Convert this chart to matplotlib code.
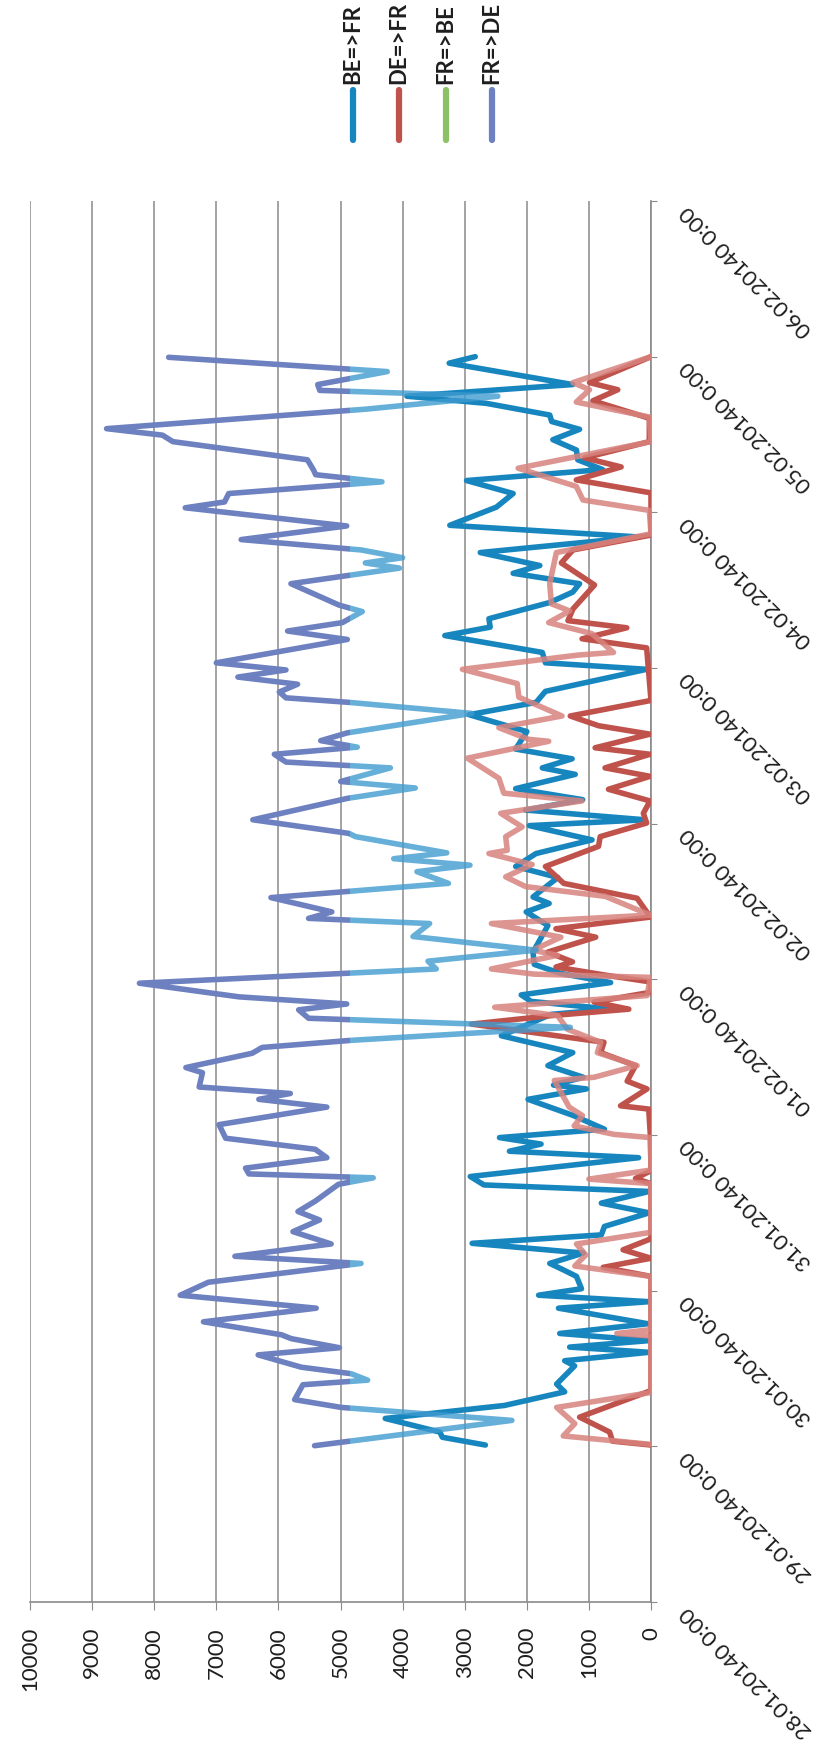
import matplotlib
matplotlib.use("Agg")
import matplotlib.pyplot as plt
from matplotlib.lines import Line2D
from matplotlib.patches import Rectangle

plt.rcParams['font.family'] = ['Lato', 'DejaVu Sans']

series_names = ['BE=>FR', 'DE=>FR', 'FR=>BE', 'FR=>DE']
day_labels = ['28.01.20140 0:00', '29.01.20140 0:00', '30.01.20140 0:00',
              '31.01.20140 0:00', '01.02.20140 0:00', '02.02.20140 0:00',
              '03.02.20140 0:00', '04.02.20140 0:00', '05.02.20140 0:00',
              '06.02.20140 0:00']
value_ticks = [0, 1000, 2000, 3000, 4000, 5000, 6000, 7000, 8000, 9000, 10000]

# (hours after 29.01 0:00, MW)
be_fr = [(0.2, 2667), (1.4, 3360), (2.2, 3400), (4.3, 4280), (6.3, 2360), (8.4, 1390),
         (9.6, 1520), (12.4, 1230), (13.2, 1390), (14.5, 30), (15.3, 1310), (16.3, 30),
         (17.4, 1470), (18.9, 50), (21.3, 1490), (22.3, 30), (23.3, 1810), (24.3, 1120),
         (26.2, 1200), (27.2, 1410), (28.2, 1630), (29.8, 1090), (31.3, 2880), (32.6, 800),
         (33.9, 750), (36.0, 30), (37.5, 800), (39.3, 30), (40.3, 2690), (41.6, 2910),
         (44.5, 200), (45.5, 2280), (46.6, 1770), (47.6, 2440), (48.9, 750), (51.0, 1250),
         (53.5, 1980), (55.1, 1040), (55.7, 1570), (56.9, 1090), (58.7, 1660), (60.7, 1260),
         (63.3, 2410), (66.6, 1610), (67.4, 650), (68.6, 1930), (69.6, 2090), (71.5, 650),
         (72.9, 1450), (74.3, 1880), (76.2, 1900), (80.3, 1660), (82.4, 2010), (83.7, 1640),
         (84.7, 1900), (87.7, 1500), (89.4, 2180), (91.4, 1850), (93.5, 950), (95.7, 1960),
         (96.6, 100), (98.1, 2020), (99.7, 1100), (101.4, 2180), (103.6, 1220), (104.6, 1750),
         (106.0, 1270), (107.5, 2180), (110.2, 2000), (112.8, 2930), (114.7, 1850),
         (116.4, 1700), (119.8, 70), (120.8, 1700), (122.4, 1750), (125.0, 3320),
         (126.3, 2590), (127.6, 2610), (130.1, 1630), (131.7, 1260), (133.0, 1150),
         (134.6, 2220), (135.8, 1790), (137.8, 2750), (140.2, 190), (142.0, 3240),
         (144.8, 2490), (146.9, 2220), (148.9, 2970), (150.6, 780), (152.1, 1180),
         (153.6, 1200), (155.2, 1580), (156.8, 1150), (158.0, 1600), (159.0, 1630),
         (160.8, 2650), (161.9, 3930), (163.7, 1260), (167.0, 3250), (168.0, 2830)]

de_fr = [(0.2, 0), (0.8, 620), (2.2, 667), (4.5, 1150), (8.6, 0), (26.2, 0), (27.6, 770),
         (29.0, 0), (30.3, 450), (32.0, 0), (40.5, 0), (41.3, 250), (42.5, 0), (47.9, 10),
         (52.0, 37), (52.5, 490), (55.1, 64), (56.3, 384), (58.7, 250), (60.7, 810),
         (62.3, 757), (65.1, 2890), (66.4, 1610), (67.4, 357), (68.5, 917), (70.0, 10),
         (71.6, 10), (72.6, 704), (73.9, 1530), (74.7, 1264), (76.2, 1664), (78.5, 890),
         (79.8, 1531), (81.6, 10), (84.5, 224), (86.8, 1406), (89.4, 1700), (92.5, 845),
         (94.0, 818), (96.1, 70), (97.6, 123), (99.5, 16), (101.3, 685), (103.3, 16),
         (104.6, 740), (106.7, 16), (107.7, 900), (109.8, 16), (111.1, 845), (112.6, 1300),
         (115.0, 0), (123.1, 70), (124.5, 1110), (126.2, 390), (127.3, 1337), (129.1, 1257),
         (132.8, 909), (136.2, 1444), (138.2, 1257), (140.5, 0), (147.0, 0), (149.0, 1203),
         (151.0, 481), (152.4, 1070), (154.9, 27), (158.5, 27), (161.2, 936), (162.9, 535),
         (164.0, 990), (168.0, 0)]

fr_be = [(0.3, 0), (1.6, 1413), (3.5, 1227), (6.0, 1520), (8.3, 0), (17.0, 0), (17.4, 550),
         (18.0, 0), (26.2, 0), (27.8, 1227), (29.5, 1050), (31.2, 1200), (33.0, 0), (40.5, 0),
         (41.2, 1000), (42.6, 0), (47.6, 10), (48.1, 597), (49.4, 1237), (51.0, 1104),
         (52.3, 1317), (56.4, 1557), (56.9, 917), (58.7, 224), (60.7, 864), (62.3, 810),
         (64.3, 1344), (66.4, 1504), (67.7, 2517), (69.5, 64), (72.3, 10), (72.8, 1877),
         (73.6, 2570), (75.7, 1504), (76.5, 1904), (78.5, 1451), (80.6, 2570), (81.9, 10),
         (84.8, 738), (86.3, 2020), (87.8, 2340), (89.7, 1914), (91.4, 2610), (91.9, 2315),
         (94.0, 2340), (95.5, 2075), (97.6, 2420), (99.5, 1112), (100.7, 2370), (103.0, 2450),
         (106.1, 2957), (108.7, 1647), (109.0, 1968), (110.8, 2450), (112.6, 1433),
         (115.5, 2128), (117.6, 2155), (119.8, 3037), (122.0, 1166), (122.4, 604),
         (125.3, 952), (127.0, 1647), (128.8, 1310), (129.9, 1604), (133.0, 1631),
         (137.8, 1524), (140.7, 0), (144.3, 27), (145.9, 1096), (148.0, 1203), (150.8, 2139),
         (154.9, 0), (158.7, 27), (161.0, 1203), (162.9, 990), (164.0, 1257), (168.0, 0)]

fr_de = [(0.1, 5418), (4.0, 2240), (6.0, 4990), (7.2, 5738), (9.5, 5605), (10.2, 4563),
         (11.2, 4830), (12.2, 5631), (14.1, 6326), (15.2, 5017), (16.6, 5792), (17.2, 5951),
         (19.2, 7207), (21.3, 5391), (23.3, 7581), (25.3, 7127), (28.2, 4670), (29.3, 6700),
         (31.2, 5151), (33.1, 5765), (34.9, 5338), (36.2, 5685), (37.8, 5407), (40.4, 5033),
         (41.4, 4473), (42.0, 6475), (42.9, 6529), (44.5, 5220), (45.8, 5407), (47.5, 6849),
         (49.6, 6956), (52.3, 5220), (53.5, 6315), (54.4, 5808), (55.4, 7276), (57.6, 7223),
         (58.4, 7490), (60.6, 6422), (61.5, 6262), (62.6, 4820), (64.6, 1300), (66.0, 5514),
         (67.3, 5674), (68.2, 4900), (69.3, 6636), (71.4, 8238), (73.6, 3458), (74.8, 3591),
         (76.5, 1850), (78.6, 3832), (80.6, 3565), (81.4, 5514), (82.4, 5140), (84.6, 6120),
         (86.8, 3262), (88.6, 3769), (89.6, 2915), (90.6, 4143), (91.5, 3289), (94.0, 4757),
         (94.5, 4864), (96.6, 6412), (99.9, 4890), (101.5, 3796), (102.5, 4997), (104.6, 4197),
         (105.5, 5878), (106.7, 6065), (107.8, 4730), (108.8, 5318), (110.0, 4890),
         (113.0, 2888), (114.7, 4864), (115.4, 5878), (116.3, 5985), (117.5, 5691),
         (118.6, 6652), (119.7, 5878), (120.8, 7000), (124.4, 4890), (125.7, 5852),
         (127.0, 4970), (128.7, 4650), (129.7, 5024), (133.0, 5798), (135.4, 4050),
         (136.2, 4600), (137.0, 4000), (138.2, 4667), (139.8, 6600), (141.9, 4900),
         (144.7, 7500), (145.6, 6867), (146.9, 6800), (148.7, 4333), (149.8, 5400),
         (150.5, 5433), (152.1, 5533), (154.9, 7700), (155.9, 7867), (156.9, 8767),
         (159.9, 4600), (161.9, 2467), (162.8, 5333), (163.7, 5367), (165.7, 4247),
         (167.9, 7767)]

blue = '#1786bf'
red = '#c0524c'
pink = '#d8837e'
purple = '#6d80c0'
cyan = '#3f9bd0'
green = '#8cc168'
grid_c = '#8a8a8a'
text_c = '#1e1e1e'


def to_days(pts):
    # days after 28.01 0:00
    return [1 + h / 24 for h, v in pts], [v for h, v in pts]


fig = plt.figure(figsize=(8.19, 17.43), dpi=100)
ax = fig.add_axes([30 / 819, 1 - 1602 / 1743, 621 / 819, 1401 / 1743])

lw = 4.0
t, v = to_days(be_fr)
ax.plot(v, t, color=blue, lw=lw, solid_joinstyle='round', solid_capstyle='round', zorder=3)
t, v = to_days(de_fr)
ax.plot(v, t, color=red, lw=lw, solid_joinstyle='round', solid_capstyle='round', zorder=3.1)
t, v = to_days(fr_be)
ax.plot(v, t, color=pink, lw=lw, alpha=0.85, solid_joinstyle='round', solid_capstyle='round', zorder=3.2)

# scan shows FR=>DE in a cyan tone below ~4850
t, v = to_days(fr_de)
hi, = ax.plot(v, t, color=purple, lw=lw, solid_joinstyle='round', solid_capstyle='round', zorder=3.3)
hi.set_clip_path(Rectangle((4850, -1), 6000, 12, transform=ax.transData))
lo, = ax.plot(v, t, color=cyan, lw=lw, alpha=0.8, solid_joinstyle='round', solid_capstyle='round', zorder=3.3)
lo.set_clip_path(Rectangle((-1000, -1), 5850, 12, transform=ax.transData))

ax.set_xlim(10000, 0)
ax.set_ylim(0, 9)
ax.set_xticks(value_ticks)
ax.set_yticks(range(len(day_labels)))
ax.set_yticklabels(day_labels)
ax.yaxis.tick_right()

for s in ['left', 'top']:
    ax.spines[s].set_visible(False)
for s in ['bottom', 'right']:
    ax.spines[s].set_color(grid_c)
    ax.spines[s].set_linewidth(1.2)

ax.grid(axis='x', color=grid_c, lw=1.1)
ax.set_axisbelow(True)
ax.tick_params(axis='x', direction='out', length=6, color=grid_c, labelrotation=90,
               labelsize=16, pad=12, labelcolor=text_c)
ax.tick_params(axis='y', direction='out', length=4, color=grid_c,
               labelsize=16, pad=15, labelcolor=text_c)
for lab in ax.get_yticklabels():
    lab.set_rotation(135)
    lab.set_ha('left')
    lab.set_va('top')

# legend, drawn rotated like the scan
legend_colors = [blue, red, green, purple]
legend_x = [353, 399, 446, 492]
for name, c, xp in zip(series_names, legend_colors, legend_x):
    xf = xp / 819
    fig.add_artist(Line2D([xf, xf], [1 - 90 / 1743, 1 - 140 / 1743], transform=fig.transFigure,
                          color=c, lw=4.5, solid_capstyle='round'))
    fig.text(xf, 1 - 84 / 1743, name, rotation=90, ha='center', va='bottom',
             fontsize=16, fontweight='bold', color=text_c)

fig.savefig('out.png', dpi=100)
